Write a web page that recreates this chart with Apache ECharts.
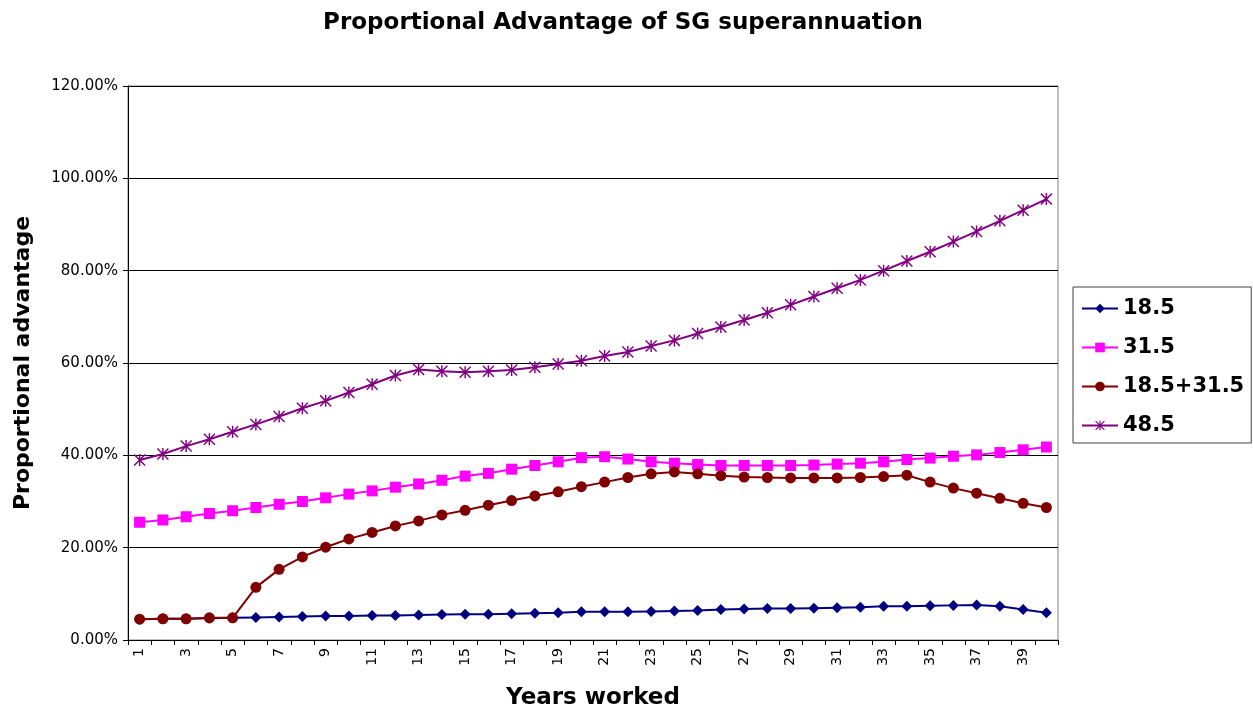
<!DOCTYPE html>
<html>
<head>
<meta charset="utf-8">
<script src="https://cdn.jsdelivr.net/npm/echarts@6/dist/echarts.min.js"></script>
<style>
  html, body { margin: 0; padding: 0; background: #fff; }
  #chart { width: 1253px; height: 711px; }
</style>
</head>
<body>
<div id="chart"></div>
<script>
// Years worked 1..40
const years = Array.from({ length: 40 }, (_, i) => String(i + 1));

// Proportional advantage, in percent
const s185 = [4.5, 4.6, 4.6, 4.7, 4.8, 4.9, 5.0, 5.1, 5.2, 5.2,
              5.3, 5.3, 5.4, 5.5, 5.6, 5.6, 5.7, 5.8, 5.9, 6.1,
              6.1, 6.1, 6.2, 6.3, 6.4, 6.6, 6.7, 6.8, 6.8, 6.9,
              7.0, 7.1, 7.3, 7.3, 7.4, 7.5, 7.6, 7.3, 6.6, 5.9];
const s315 = [25.5, 26.0, 26.7, 27.4, 28.0, 28.7, 29.4, 30.0, 30.8, 31.6,
              32.3, 33.1, 33.8, 34.6, 35.5, 36.1, 37.0, 37.8, 38.6, 39.5,
              39.7, 39.2, 38.6, 38.3, 38.0, 37.8, 37.8, 37.8, 37.8, 37.9,
              38.1, 38.3, 38.6, 39.1, 39.4, 39.8, 40.1, 40.6, 41.2, 41.8];
const s185_315 = [4.5, 4.6, 4.6, 4.8, 4.8, 11.4, 15.3, 18.0, 20.1, 21.9,
                  23.3, 24.7, 25.8, 27.1, 28.1, 29.2, 30.2, 31.2, 32.1, 33.2,
                  34.2, 35.2, 36.0, 36.4, 36.0, 35.6, 35.3, 35.2, 35.1, 35.1,
                  35.1, 35.2, 35.4, 35.7, 34.2, 32.9, 31.8, 30.7, 29.6, 28.7];
const s485 = [39.0, 40.3, 42.0, 43.5, 45.1, 46.7, 48.4, 50.2, 51.8, 53.6,
              55.4, 57.3, 58.6, 58.2, 58.0, 58.2, 58.5, 59.1, 59.8, 60.5,
              61.5, 62.4, 63.7, 64.9, 66.4, 67.8, 69.3, 70.9, 72.6, 74.4,
              76.2, 78.0, 80.0, 82.1, 84.1, 86.3, 88.5, 90.8, 93.1, 95.5];

// Asterisk marker: one upright bar and two diagonal bars
const asterisk = 'path://M4.4 0H5.6V10H4.4Z M0 0.85L0.85 0L10 9.15L9.15 10Z M9.15 0L10 0.85L0.85 10L0 9.15Z';

const FONT = '"DejaVu Sans", "Liberation Sans", Arial, sans-serif';
const boldText = size => ({ fontFamily: FONT, fontSize: size, fontWeight: 'bold', color: '#000' });

function lineSeries(name, data, color, symbol, size) {
  return {
    name, type: 'line', data,
    symbol, symbolSize: size,
    lineStyle: { color, width: 2 },
    itemStyle: { color },
    emphasis: { disabled: true },
    z: 3
  };
}

const chart = echarts.init(document.getElementById('chart'), null, { renderer: 'canvas' });
chart.setOption({
  animation: false,
  backgroundColor: '#fff',
  textStyle: { fontFamily: FONT },
  title: {
    text: 'Proportional Advantage of SG superannuation',
    left: 618, top: 7, textAlign: 'center',
    textStyle: boldText(23)
  },
  grid: {
    left: 128, right: 195, top: 86, bottom: 71,
    outerBoundsMode: 'none',
    containLabel: false,
    show: true, borderColor: '#808080', borderWidth: 1, backgroundColor: '#fff'
  },
  legend: {
    orient: 'vertical',
    left: 1073, top: 287,
    padding: [11, 7, 7, 8],
    itemGap: 18,
    itemWidth: 36, itemHeight: 12,
    borderColor: '#404040', borderWidth: 1,
    textStyle: boldText(21),
    data: ['18.5', '31.5', '18.5+31.5', '48.5']
  },
  xAxis: {
    type: 'category',
    data: years,
    boundaryGap: true,
    name: 'Years worked',
    nameLocation: 'middle',
    nameGap: 47,
    nameTextStyle: boldText(23),
    axisLine: { lineStyle: { color: '#000', width: 1 } },
    axisTick: { show: true, interval: 0, length: 5, lineStyle: { color: '#000' } },
    axisLabel: { interval: 1, rotate: 90, fontSize: 14, color: '#000', fontFamily: FONT, margin: 8 },
    splitLine: { show: false }
  },
  yAxis: {
    type: 'value',
    min: 0, max: 120, interval: 20,
    name: 'Proportional advantage',
    nameLocation: 'middle',
    nameGap: 94,
    nameTextStyle: boldText(22),
    axisLine: { show: true, lineStyle: { color: '#000', width: 1 } },
    axisTick: { show: true, length: 5, lineStyle: { color: '#000' } },
    axisLabel: {
      fontSize: 15, color: '#000', fontFamily: FONT, margin: 10,
      formatter: v => v.toFixed(2) + '%'
    },
    splitLine: { show: true, lineStyle: { color: '#000', width: 1 } }
  },
  series: [
    lineSeries('18.5', s185, '#000080', 'diamond', 11),
    lineSeries('31.5', s315, '#FF00FF', 'rect', 11),
    lineSeries('18.5+31.5', s185_315, '#800000', 'circle', 11),
    lineSeries('48.5', s485, '#800080', asterisk, 12)
  ]
});
</script>
</body>
</html>
